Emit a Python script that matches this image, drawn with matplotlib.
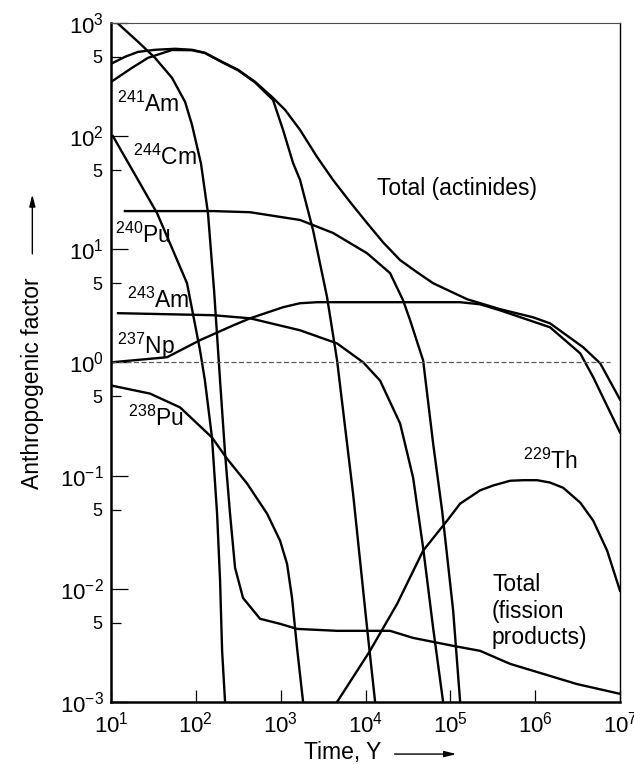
import matplotlib
matplotlib.use('Agg')
import matplotlib.pyplot as plt
from matplotlib.ticker import FixedLocator, FixedFormatter, NullLocator

plt.rcParams['font.family'] = ['Liberation Sans', 'DejaVu Sans']
plt.rcParams['mathtext.fontset'] = 'custom'
plt.rcParams['mathtext.rm'] = 'Liberation Sans'
plt.rcParams['mathtext.it'] = 'Liberation Sans:italic'
plt.rcParams['mathtext.bf'] = 'Liberation Sans:bold'

# curves (time in years, anthropogenic factor)
fp_t = [11.8, 20.8, 33.0, 52.4, 74.7, 90.2, 115, 139, 164, 193, 221, 253, 290, 360, 571,
        984, 1560, 4624, 19500, 36400, 108000, 224000, 507000, 3.1e6, 1e7]
fp_v = [1000, 680, 490, 326, 200, 125, 57, 20.8, 4.33, 0.69, 0.157, 0.046, 0.0153, 0.0083,
        0.00543, 0.0049, 0.00442, 0.00425, 0.00425, 0.00368, 0.00313, 0.00283, 0.00217,
        0.00144, 0.00118]

tot_t = [10, 14.6, 20.8, 33.0, 56.9, 90.2, 128, 204, 315, 499, 792, 1127, 1694, 2687, 4150,
         6580, 10440, 16100, 25600, 40600, 62700, 99500, 158000, 386000, 946000, 1.5e6,
         3.68e6, 5.85e6, 1e7]
tot_v = [434, 500, 553, 577, 589, 577, 543, 452, 384, 301, 221, 170, 113, 65.2, 40.8,
         26.1, 17.0, 11.5, 8.0, 6.25, 5.0, 4.25, 3.61, 2.95, 2.50, 2.21, 1.36, 0.98, 0.47]

am241_t = [10, 17.7, 27.3, 52.4, 90.2, 128, 204, 315, 499, 813, 1067, 1400, 1694, 2410,
           3524, 4624, 7140, 10440, 12980]
am241_v = [300, 400, 490, 575, 572, 540, 448, 380, 297, 208, 113, 57.7, 40.8, 14.7,
           3.76, 1.04, 0.069, 0.0045, 0.001]

cm244_t = [10.5, 34.9, 78.7, 112, 128, 155, 178, 193, 204, 221]
cm244_v = [100, 20.8, 5.0, 1.28, 0.69, 0.217, 0.046, 0.0118, 0.00283, 0.001]

pu240_t = [14.6, 160, 436, 1694, 4150, 10440, 19500, 27700, 33600, 47800, 62700, 80000,
           108000, 130500]
pu240_v = [21.7, 21.7, 21.2, 18.1, 13.9, 9.2, 6.14, 3.54, 2.35, 1.04, 0.192, 0.049,
           0.0064, 0.001]

am243_t = [12.1, 160, 436, 1694, 4624, 9400, 14860, 25600, 36400, 47800, 62700, 82200]
am243_v = [2.72, 2.61, 2.45, 1.92, 1.47, 1.0, 0.69, 0.288, 0.096, 0.023, 0.0045, 0.001]

np237_t = [10, 45.7, 112, 275, 436, 1067, 1694, 2687, 130000, 224000, 386000, 1.5e6,
           3.4e6, 4.83e6, 1e7]
np237_v = [1.0, 1.11, 1.57, 2.12, 2.45, 3.07, 3.33, 3.40, 3.40, 3.26, 2.88, 2.04,
           1.2, 0.74, 0.24]

pu238_t = [10, 28.8, 65.2, 155, 233, 402, 692, 984, 1189, 1361, 1560, 1837]
pu238_v = [0.625, 0.53, 0.40, 0.217, 0.141, 0.085, 0.046, 0.0266, 0.0166, 0.0083,
           0.0030, 0.001]

th229_t = [4624, 11300, 23600, 47800, 91700, 130500, 224000, 320000, 507000, 721000,
           1.06e6, 1.5e6, 2.14e6, 3.4e6, 4.83e6, 7.06e6, 1e7]
th229_v = [0.001, 0.00283, 0.00736, 0.0217, 0.040, 0.0565, 0.074, 0.0817, 0.090, 0.091,
           0.091, 0.0867, 0.078, 0.0577, 0.040, 0.0217, 0.0096]

x_ticks = [1e1, 1e2, 1e3, 1e4, 1e5, 1e6, 1e7]
x_labels = [r'$10^{1}$', r'$10^{2}$', r'$10^{3}$', r'$10^{4}$', r'$10^{5}$', r'$10^{6}$', r'$10^{7}$']
y_ticks = [1e-3, 1e-2, 1e-1, 1e0, 1e1, 1e2, 1e3]
y_labels = [r'$10^{-3}$', r'$10^{-2}$', r'$10^{-1}$', r'$10^{0}$', r'$10^{1}$', r'$10^{2}$', r'$10^{3}$']
y_minor = [5e-3, 5e-2, 5e-1, 5e0, 5e1, 5e2]

fig = plt.figure(figsize=(6.34, 7.64), dpi=100)
ax = fig.add_axes([0.1751, 0.0812, 0.8028, 0.889])

lw = 1.7
for t, v in [(fp_t, fp_v), (tot_t, tot_v), (am241_t, am241_v), (cm244_t, cm244_v),
             (pu240_t, pu240_v), (am243_t, am243_v), (np237_t, np237_v),
             (pu238_t, pu238_v), (th229_t, th229_v)]:
    ax.plot(t, v, color='black', lw=lw, solid_joinstyle='round')

# reference level 1
ax.plot([10, 7.6e6], [1, 1], linestyle=(0, (4, 2)), color='0.35', lw=0.9)

ax.set_xscale('log')
ax.set_yscale('log')
ax.set_xlim(1e1, 1e7)
ax.set_ylim(1e-3, 1e3)

ax.xaxis.set_major_locator(FixedLocator(x_ticks))
ax.xaxis.set_major_formatter(FixedFormatter(x_labels))
ax.xaxis.set_minor_locator(NullLocator())
ax.yaxis.set_major_locator(FixedLocator(y_ticks))
ax.yaxis.set_major_formatter(FixedFormatter(y_labels))
ax.yaxis.set_minor_locator(FixedLocator(y_minor))
ax.yaxis.set_minor_formatter(FixedFormatter(['5'] * len(y_minor)))

ax.tick_params(axis='x', which='major', direction='in', length=9, width=0.9, labelsize=16, pad=7)
ax.tick_params(axis='y', which='major', direction='in', length=12, width=0.9, labelsize=16, pad=5)
ax.tick_params(axis='y', which='minor', direction='in', length=7, width=0.9, labelsize=13, pad=6)

ax.spines['left'].set_linewidth(1.8)
ax.spines['bottom'].set_linewidth(1.8)
ax.spines['top'].set_linewidth(0.8)
ax.spines['top'].set_color('0.3')
ax.spines['right'].set_linewidth(1.0)

fs = 16.5
ax.text(11.8, 163, r'$^{241}$Am', fontsize=fs, ha='left', va='baseline')
ax.text(18.2, 55.4, r'$^{244}$Cm', fontsize=fs, ha='left', va='baseline')
ax.text(11.1, 11.3, r'$^{240}$Pu', fontsize=fs, ha='left', va='baseline')
ax.text(15.5, 3.0, r'$^{243}$Am', fontsize=fs, ha='left', va='baseline')
ax.text(11.8, 1.20, r'$^{237}$Np', fontsize=fs, ha='left', va='baseline')
ax.text(15.9, 0.277, r'$^{238}$Pu', fontsize=fs, ha='left', va='baseline')
ax.text(7.2e5, 0.115, r'$^{229}$Th', fontsize=fs, ha='left', va='baseline')
ax.text(13700, 30.1, 'Total (actinides)', fontsize=fs, ha='left', va='baseline')
ax.text(3.1e5, 0.0096, 'Total', fontsize=fs, ha='left', va='baseline')
ax.text(3.1e5, 0.00553, '(fission', fontsize=fs, ha='left', va='baseline')
ax.text(3.1e5, 0.00326, 'products)', fontsize=fs, ha='left', va='baseline')

# axis labels with arrows
fig.text(0.052, 0.499, 'Anthropogenic factor', rotation=90, fontsize=fs,
         ha='center', va='center')
ax.annotate('', xy=(0.051, 0.749), xytext=(0.051, 0.664), xycoords='figure fraction',
            arrowprops=dict(arrowstyle='-|>,head_length=0.7,head_width=0.18',
                            color='black', lw=1.0))
fig.text(0.480, 0.0145, 'Time, Y', fontsize=fs, ha='left', va='center')
ax.annotate('', xy=(0.724, 0.013), xytext=(0.618, 0.013), xycoords='figure fraction',
            arrowprops=dict(arrowstyle='-|>,head_length=0.7,head_width=0.18',
                            color='black', lw=1.0))

fig.savefig('out.png', dpi=100)
